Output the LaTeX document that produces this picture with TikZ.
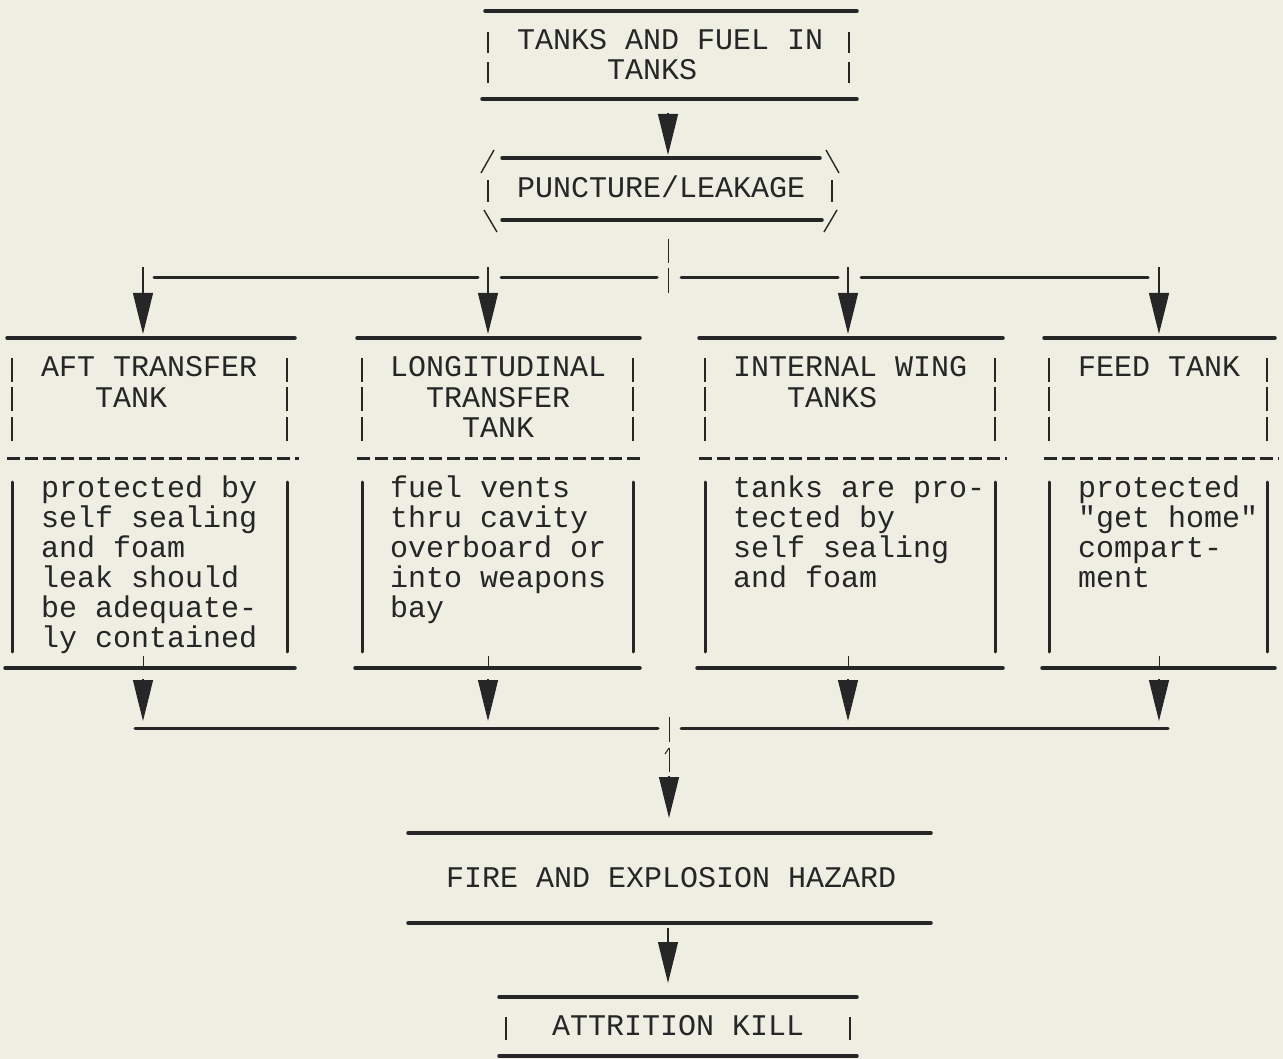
\documentclass[tikz,border=0pt]{standalone}
\usepackage{fontspec}
\setmonofont{Liberation Mono}
\usetikzlibrary{arrows.meta}
\definecolor{paper}{RGB}{238,238,227}
\definecolor{ink}{RGB}{38,38,38}
\tikzset{
  tw/.style={font=\ttfamily\fontsize{30}{30}\selectfont, inner sep=0pt, anchor=base west, text=ink},
  rule/.style={draw=ink, line width=3.5pt, line cap=round},
  busline/.style={draw=ink, line width=3pt, line cap=round},
  typebar/.style={draw=ink, line width=1.4pt},
  sidebar/.style={draw=ink, line width=3pt, line cap=round},
  dashrule/.style={draw=ink, line width=3pt, dash pattern=on 13pt off 5pt},
  spike/.style={draw=ink, line width=1.2pt, -{Triangle[length=41pt,width=20pt]}},
  tick/.style={draw=ink, line width=1pt}
}
\begin{document}
\begin{tikzpicture}[x=1pt,y=-1pt]
\fill[paper] (0,0) rectangle (1283,1059);
\useasboundingbox (0,0) rectangle (1283,1059);

% ---------- top box
\draw[rule] (485,11) -- (857,11);
\draw[rule] (482,99) -- (857,99);
\foreach \y in {43,73}{
  \draw[typebar] (488,\y-11) -- (488,\y+10);
  \draw[typebar] (849,\y-11) -- (849,\y+10);
}
\node[tw] (top1) at (517,50) {TANKS AND FUEL IN};
\node[tw] (top2) at (607,80) {TANKS};

% ---------- hexagon
\draw[rule] (502,158) -- (820,158);
\draw[rule] (502,220) -- (822,220);
\draw[typebar] (481,173) -- (494,150);
\draw[typebar] (826,150) -- (839,173);
\draw[typebar] (484,210) -- (497,232);
\draw[typebar] (837,210) -- (824,232);
\draw[typebar] (488,180) -- (488,202);
\draw[typebar] (832,180) -- (832,202);
\node[tw] (punct) at (517,198) {PUNCTURE/LEAKAGE};

\coordinate (topout) at (668,113);
\coordinate (hexin) at (668,155);
\draw[spike] (topout) -- (hexin);

% ---------- upper bus
\coordinate (hexout) at (668,239);
\coordinate (busmid) at (668,263);
\draw[tick] (hexout) -- (busmid);
\draw[tick] (668,268) -- (668,293);
\draw[busline] (154,278) -- (478,278);
\draw[busline] (501,278) -- (657,278);
\draw[busline] (681,278) -- (838,278);
\draw[busline] (861,278) -- (1148,278);

% ---------- four boxes
\foreach \l/\r/\bl/\br/\c in {7/295/12/287/143, 357/640/362/633/488, 699/1003/705/995/848, 1044/1275/1049/1267/1159}{
  \draw[rule] (\l,338) -- (\r,338);
  \foreach \y in {370,399,429}{
    \draw[typebar] (\bl,\y-12) -- (\bl,\y+12);
    \draw[typebar] (\br,\y-12) -- (\br,\y+12);
  }
  \draw[dashrule] (\l,458) -- (\r+4,458);
  \draw[sidebar] (\bl,482) -- (\bl,652);
  \draw[sidebar] (\br,482) -- (\br,652);
  \draw[rule] (\l-2,668) -- (\r,668);
  \draw[tick] (\c,656) -- (\c,668);
}

\coordinate (bus1) at (143,267);
\coordinate (bus2) at (488,267);
\coordinate (bus3) at (848,267);
\coordinate (bus4) at (1159,267);
\coordinate (in1) at (143,334);
\coordinate (in2) at (488,334);
\coordinate (in3) at (848,334);
\coordinate (in4) at (1159,334);
\draw[spike] (bus1) -- (in1);
\draw[spike] (bus2) -- (in2);
\draw[spike] (bus3) -- (in3);
\draw[spike] (bus4) -- (in4);

% headers
\node[tw] (h1a) at (41,377) {AFT TRANSFER};
\node[tw] (h1b) at (95,407) {TANK};
\node[tw] (h2a) at (390,377) {LONGITUDINAL};
\node[tw] (h2b) at (426,407) {TRANSFER};
\node[tw] (h2c) at (462,437) {TANK};
\node[tw] (h3a) at (733,377) {INTERNAL WING};
\node[tw] (h3b) at (787,407) {TANKS};
\node[tw] (h4a) at (1078,377) {FEED TANK};

% bodies
\node[tw] (b1a) at (41,497) {protected by};
\node[tw] (b1b) at (41,527) {self sealing};
\node[tw] (b1c) at (41,557) {and foam};
\node[tw] (b1d) at (41,587) {leak should};
\node[tw] (b1e) at (41,617) {be adequate-};
\node[tw] (b1f) at (41,647) {ly contained};

\node[tw] (b2a) at (390,497) {fuel vents};
\node[tw] (b2b) at (390,527) {thru cavity};
\node[tw] (b2c) at (390,557) {overboard or};
\node[tw] (b2d) at (390,587) {into weapons};
\node[tw] (b2e) at (390,617) {bay};

\node[tw] (b3a) at (733,497) {tanks are pro-};
\node[tw] (b3b) at (733,527) {tected by};
\node[tw] (b3c) at (733,557) {self sealing};
\node[tw] (b3d) at (733,587) {and foam};

\node[tw] (b4a) at (1078,497) {protected};
\node[tw] (b4b) at (1078,527) {"get home"};
\node[tw] (b4c) at (1078,557) {compart-};
\node[tw] (b4d) at (1078,587) {ment};

% ---------- lower bus
\coordinate (out1) at (143,679);
\coordinate (out2) at (488,679);
\coordinate (out3) at (848,679);
\coordinate (out4) at (1159,679);
\coordinate (lb1) at (143,721);
\coordinate (lb2) at (488,721);
\coordinate (lb3) at (848,721);
\coordinate (lb4) at (1159,721);
\draw[spike] (out1) -- (lb1);
\draw[spike] (out2) -- (lb2);
\draw[spike] (out3) -- (lb3);
\draw[spike] (out4) -- (lb4);
\draw[busline] (135,728) -- (658,728);
\draw[busline] (681,728) -- (1168,728);
\draw[tick] (669,717) -- (669,742);
\draw[tick] (669,748) -- (669,772);
\draw[tick] (669,748) -- (665,754);

\coordinate (lbout) at (669,776);
\coordinate (firein) at (669,818);
\draw[spike] (lbout) -- (firein);

% ---------- fire box
\draw[rule] (408,833) -- (931,833);
\draw[rule] (408,923) -- (931,923);
\node[tw] (fire) at (446,887) {FIRE AND EXPLOSION HAZARD};

\coordinate (fireout) at (668,928);
\coordinate (killin) at (668,983);
\draw[spike] (fireout) -- (killin);

% ---------- attrition kill
\draw[rule] (499,997) -- (857,997);
\draw[rule] (499,1056) -- (857,1056);
\draw[typebar] (506,1017) -- (506,1040);
\draw[typebar] (850,1017) -- (850,1040);
\node[tw] (kill) at (552,1035) {ATTRITION KILL};
\end{tikzpicture}
\end{document}
